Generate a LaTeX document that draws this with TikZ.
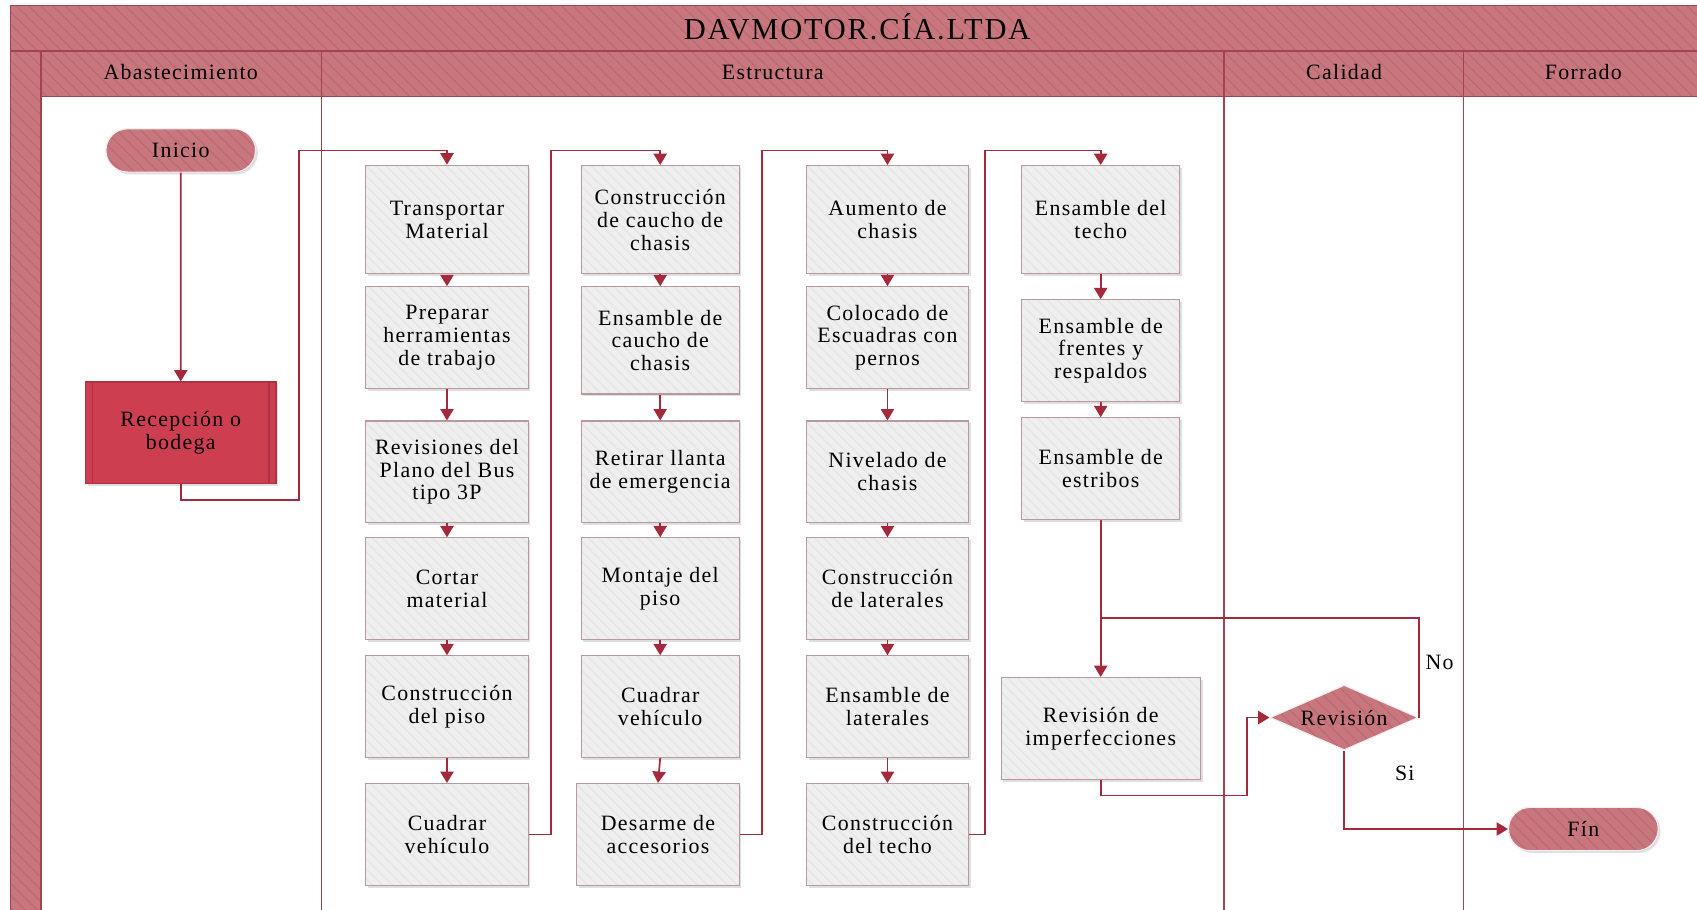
\documentclass[tikz,border=0pt]{standalone}
\usepackage{fontspec}
\setmainfont{Liberation Serif}[LetterSpace=6.0]
\usetikzlibrary{shapes.geometric,shapes.misc,arrows.meta,shadows,patterns.meta}

\definecolor{hdr}{HTML}{C8777F}
\definecolor{hdrline}{HTML}{BD6A73}
\definecolor{hdrborder}{HTML}{A34251}
\definecolor{recep}{HTML}{CC3E50}
\definecolor{recepline}{HTML}{AE3244}
\definecolor{flowc}{HTML}{A42A3B}
\definecolor{boxfill}{HTML}{EFEFEF}
\definecolor{boxstripe}{HTML}{E6E6E6}
\definecolor{boxline}{HTML}{B89A9E}

\begin{document}
\begin{tikzpicture}[x=0.2mm, y=-0.2mm, font=\fontsize{11.5}{12}\selectfont,
  hdr/.style={preaction={fill=hdr}, pattern={Lines[angle=-45,distance=4.5pt,line width=0.7pt]}, pattern color=hdrline, draw=hdrborder, line width=0.7pt},
  lane/.style={draw=hdrborder, line width=0.7pt},
  box/.style={draw=boxline, line width=0.6pt, drop shadow={shadow xshift=1.2pt, shadow yshift=-1.2pt, opacity=0.25, fill=gray}, preaction={fill=boxfill}, pattern={Lines[angle=-45,distance=4pt,line width=1pt]}, pattern color=boxstripe, minimum width=30mm, minimum height=18.8mm, align=center, inner sep=1pt},
  pill/.style={rounded rectangle, draw=white!85!hdr, line width=0.6pt, drop shadow={shadow xshift=1.2pt, shadow yshift=-1.2pt, opacity=0.25, fill=gray}, preaction={fill=hdr}, pattern={Lines[angle=-45,distance=4.5pt,line width=0.7pt]}, pattern color=hdrline, minimum width=30mm, minimum height=8mm},
  flow/.style={draw=flowc, line width=0.9pt, -{Triangle[width=7pt,length=6pt]}},
  line/.style={draw=flowc, line width=0.9pt}]

\useasboundingbox (0,0) rectangle (1568,840);
\clip (0,0) rectangle (1568,840);

% pool and lanes
\fill[white] (0,0) rectangle (1568,840);
\path[hdr] (10,5) rectangle (1580,47);
\path[hdr] (10,47) rectangle (38,850);
\path[hdr] (38,47) rectangle (297,89);
\path[hdr] (297,47) rectangle (1131,89);
\path[hdr] (1131,47) rectangle (1352,89);
\path[hdr] (1352,47) rectangle (1580,89);
\draw[lane] (297,89) -- (297,850);
\draw[lane] (1131,89) -- (1131,850);
\draw[lane] (1352,89) -- (1352,850);

\node[font=\fontsize{16}{18}\selectfont] (title) at (792,25) {DAVMOTOR.CÍA.LTDA};
\node (abast) at (167,67) {Abastecimiento};
\node (estr) at (714,67) {Estructura};
\node (cal) at (1242,67) {Calidad};
\node (forr) at (1463,67) {Forrado};

% Abastecimiento
\node[pill] (inicio) at (167,139) {Inicio};
\node[draw=recepline, fill=recep, line width=0.6pt, minimum width=35.2mm, minimum height=18.8mm, align=center, drop shadow={shadow xshift=1.2pt, shadow yshift=-1.2pt, opacity=0.25, fill=gray}] (recep) at (167,400) {Recepción o\\bodega};
\draw[recepline, line width=0.6pt] ([xshift=1.4mm]recep.north west) -- ([xshift=1.4mm]recep.south west);
\draw[recepline, line width=0.6pt] ([xshift=-1.4mm]recep.north east) -- ([xshift=-1.4mm]recep.south east);

% Estructura
\node[box, minimum height=20mm] (a1) at (413,203) {Transportar\\Material};
\node[box] (a2) at (413,312) {Preparar\\herramientas\\de trabajo};
\node[box] (a3) at (413,436) {Revisiones del\\Plano del Bus\\tipo 3P};
\node[box] (a4) at (413,544) {Cortar\\material};
\node[box] (a5) at (413,653) {Construcción\\del piso};
\node[box] (a6) at (413,771) {Cuadrar\\vehículo};

\node[box, minimum width=29.2mm, minimum height=20mm] (b1) at (610,203) {Construcción\\de caucho de\\chasis};
\node[box, minimum width=29.2mm, minimum height=19.8mm] (b2) at (610,314.5) {Ensamble de\\caucho de\\chasis};
\node[box, minimum width=29.2mm] (b3) at (610,436) {Retirar llanta\\de emergencia};
\node[box, minimum width=29.2mm] (b4) at (610,544) {Montaje del\\piso};
\node[box, minimum width=29.2mm] (b5) at (610,653) {Cuadrar\\vehículo};
\node[box] (b6) at (608,771) {Desarme de\\accesorios};

\node[box, minimum height=20mm] (c1) at (820,203) {Aumento de\\chasis};
\node[box] (c2) at (820,312) {Colocado de\\Escuadras con\\pernos};
\node[box] (c3) at (820,436) {Nivelado de\\chasis};
\node[box] (c4) at (820,544) {Construcción\\de laterales};
\node[box] (c5) at (820,653) {Ensamble de\\laterales};
\node[box] (c6) at (820,771) {Construcción\\del techo};

\node[box, minimum width=29.2mm, minimum height=20mm] (d1) at (1017,203) {Ensamble del\\techo};
\node[box, minimum width=29.2mm] (d2) at (1017,324) {Ensamble de\\frentes y\\respaldos};
\node[box, minimum width=29.2mm] (d3) at (1017,433) {Ensamble de\\estribos};
\node[box, minimum width=36.8mm] (rev) at (1017,673) {Revisión de\\imperfecciones};

% Calidad
\node[diamond, aspect=2.28, inner sep=0pt, minimum width=27.4mm, minimum height=12mm, draw=white!85!hdr, line width=0.6pt, preaction={fill=hdr}, pattern={Lines[angle=-45,distance=4.5pt,line width=0.7pt]}, pattern color=hdrline] (dec) at (1242,663) {Revisión};
\node[pill] (fin) at (1463,766) {Fín};

% connectors
\draw[flow] (inicio) -- (recep);
\draw[flow] (recep.south) |- (276,462) -- (276,139) -| (a1.north);
\draw[flow] (a1) -- (a2);
\draw[flow] (a2) -- (a3);
\draw[flow] (a3) -- (a4);
\draw[flow] (a4) -- (a5);
\draw[flow] (a5) -- (a6);
\draw[flow] (a6.east) -| (509,139) -| (b1.north);
\draw[flow] (b1) -- (b2);
\draw[flow] (b2) -- (b3);
\draw[flow] (b3) -- (b4);
\draw[flow] (b4) -- (b5);
\draw[flow] (b5.south) -- (b6.north);
\draw[flow] (b6.east) -| (704,139) -| (c1.north);
\draw[flow] (c1) -- (c2);
\draw[flow] (c2) -- (c3);
\draw[flow] (c3) -- (c4);
\draw[flow] (c4) -- (c5);
\draw[flow] (c5) -- (c6);
\draw[flow] (c6.east) -| (910,139) -| (d1.north);
\draw[flow] (d1) -- (d2);
\draw[flow] (d2) -- (d3);
\draw[flow] (d3) -- (rev);
\draw[line] (dec.east) |- (1017,571);
\draw[flow] (rev.south) |- (1152,735) |- (dec.west);
\draw[flow] (dec.south) |- (fin.west);

\node[anchor=west] (no) at (1311,612) {No};
\node (si) at (1298,715) {Si};

\end{tikzpicture}
\end{document}
